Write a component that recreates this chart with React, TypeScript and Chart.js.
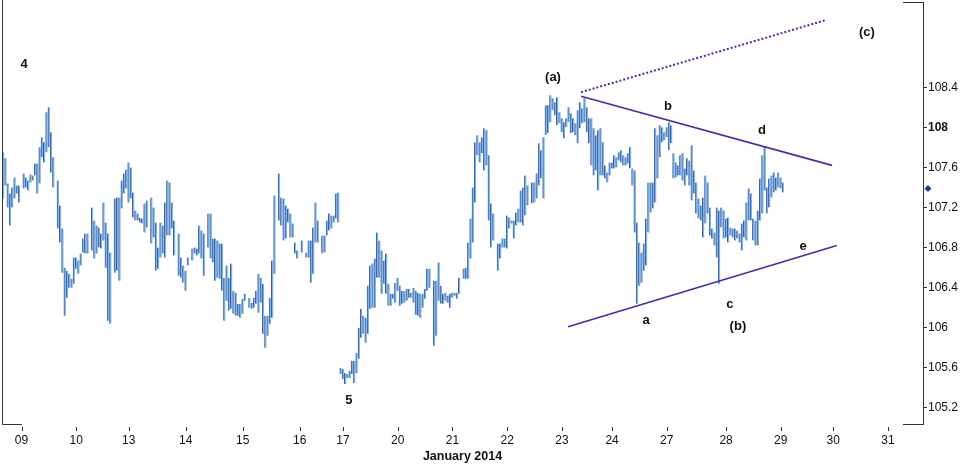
import React, { useEffect, useRef } from "react";
import { Chart, registerables } from "chart.js";

Chart.register(...registerables);

// ---- DATA -------------------------------------------------------------
// Hourly bars, hour offsets counted from the first bar (runs of consecutive hours)
const HOUR_RUNS: [number, number][] = [
  [0, 7], [9, 22], [24, 37], [39, 47], [49, 63], [65, 75], [77, 81], [83, 88],
  [90, 106], [108, 119], [121, 129], [131, 131], [133, 138], [140, 187],
  [189, 200], [202, 215], [217, 230], [232, 342],
];

const HIGHS: number[] = [
  // Jan 9 - 13
  107.75, 107.69, 107.44, 107.34, 107.40, 107.50, 107.42, 107.42,
  107.54, 107.50, 107.47, 107.53, 107.52, 107.64, 107.64, 107.80, 107.90, 107.85, 108.15, 108.20, 107.95, 107.70,
  107.47, 107.22, 106.99, 106.60, 106.57, 106.54, 106.49, 106.70, 106.70, 106.67, 106.74, 106.89, 106.94, 106.94,
  107.20, 107.07, 107.02, 107.00, 106.94, 107.25, 107.05, 106.94, 106.75,
  107.29, 107.30, 107.30, 107.47, 107.54, 107.58, 107.65, 107.60, 107.35,
  // Jan 13 - 16
  107.17, 107.14, 107.10, 107.09, 107.24, 107.27,
  107.30, 107.20, 107.05, 106.80, 107.05, 107.02, 107.25, 107.47, 107.45, 107.25, 107.07,
  106.94, 106.70, 106.62, 106.57, 106.70,
  106.79, 106.80, 106.79, 107.02, 106.97, 106.94,
  107.14, 107.14, 106.89, 106.89, 106.87, 106.84, 106.84, 106.50, 106.62, 106.50, 106.64, 106.37, 106.35, 106.24, 106.24, 106.29, 106.34,
  106.30, 106.25, 106.30, 106.37, 106.54, 106.50, 106.44,
  // Jan 16 - 17
  106.12, 106.12, 106.30, 106.67, 107.32,
  107.54, 107.30, 107.29, 107.22, 107.19, 107.14, 107.04, 106.85, 106.77,
  106.87,
  106.75, 106.87, 106.87, 107.00, 107.25, 107.07,
  106.92, 106.92, 107.07, 107.14, 107.12, 107.12, 107.34, 107.35,
  // Jan 17 - 20
  105.60, 105.59, 105.55, 105.54, 105.57, 105.67, 105.67, 105.75, 106.00, 106.19, 106.12, 106.10, 106.42,
  106.62, 106.64, 106.69, 106.95, 106.87, 106.77, 106.67, 106.74, 106.44, 106.34, 106.34, 106.45,
  // Jan 20 - 22
  106.50, 106.42, 106.37, 106.37, 106.39, 106.39, 106.35, 106.40, 106.37, 106.35, 106.34, 106.34, 106.39, 106.59, 106.59,
  106.47, 106.47, 106.65, 106.42, 106.34, 106.35, 106.32, 106.34, 106.35, 106.35, 106.35, 106.50,
  106.59, 106.60, 106.85, 107.09, 107.40, 107.85, 107.92, 107.85, 107.90, 107.99, 107.97, 107.72, 107.24, 107.14,
  106.84, 106.84, 106.89, 106.89, 107.12, 107.10, 107.07, 107.07, 107.15, 107.19, 107.37, 107.40,
  // Jan 22 - 24
  107.52, 107.42,
  107.45, 107.45, 107.54, 107.84, 107.77, 107.90, 108.22, 108.22, 108.32, 108.29,
  108.25, 108.30, 108.15, 108.09, 108.05, 108.09, 108.20, 108.14, 108.09, 108.04,
  108.17, 108.25, 108.19, 108.29, 108.20, 108.09, 108.09, 107.99, 107.92, 107.97,
  107.99, 107.85, 107.62, 107.55, 107.65, 107.65, 107.72, 107.70, 107.75, 107.77,
  107.72, 107.70, 107.74, 107.80, 107.59, 107.57, 107.05, 106.85, 106.75, 106.84,
  107.09, 107.45, 107.45, 107.45, 107.99,
  // Jan 27 - 29
  107.92, 108.02, 108.00, 107.95, 108.00, 108.05, 108.02, 107.74, 107.65, 107.62,
  107.72, 107.74, 107.59, 107.69, 107.67, 107.82, 107.57, 107.45, 107.29, 107.22,
  107.30, 107.52, 107.45, 107.20, 106.99, 106.95, 107.20, 107.17, 107.20, 107.17,
  107.09, 107.10, 107.00, 106.99, 106.99, 106.97, 106.94, 107.04, 107.07, 107.25,
  107.39, 107.34, 107.09, 107.07, 107.17, 107.49, 107.72, 107.80, 107.40, 107.49,
  107.52, 107.55, 107.50, 107.55, 107.50, 107.45,
];

const LOWS: number[] = [
  // Jan 9 - 13
  107.29, 107.42, 107.20, 107.02, 107.20, 107.29, 107.34, 107.25,
  107.39, 107.40, 107.37, 107.45, 107.47, 107.52, 107.34, 107.44, 107.70, 107.65, 107.75, 107.80, 107.55, 107.40,
  106.99, 106.85, 106.55, 106.12, 106.30, 106.40, 106.40, 106.44, 106.59, 106.54, 106.62, 106.75, 106.74, 106.74,
  106.77, 106.69, 106.74, 106.80, 106.79, 106.87, 106.60, 106.07, 106.04,
  106.55, 106.57, 106.47, 107.19, 107.34, 107.39, 107.25, 107.29, 107.10,
  // Jan 13 - 16
  107.07, 107.07, 107.05, 107.04, 106.95, 107.00,
  106.84, 106.90, 106.57, 106.59, 106.70, 106.74, 106.70, 106.92, 106.92, 106.99, 106.72,
  106.52, 106.50, 106.45, 106.37, 106.62,
  106.67, 106.74, 106.72, 106.74, 106.69, 106.52,
  106.80, 106.69, 106.65, 106.47, 106.50, 106.49, 106.37, 106.07, 106.27, 106.17, 106.19, 106.14, 106.12, 106.12, 106.10, 106.14, 106.27,
  106.20, 106.19, 106.20, 106.24, 106.15, 106.25, 105.94,
  // Jan 16 - 17
  105.80, 105.92, 106.04, 106.10, 106.54,
  107.07, 107.02, 106.87, 106.89, 107.05, 106.90, 106.90, 106.74, 106.69,
  106.75,
  106.70, 106.70, 106.45, 106.54, 106.85, 106.85,
  106.74, 106.75, 106.92, 106.97, 106.99, 107.05, 107.09, 107.05,
  // Jan 17 - 20
  105.54, 105.49, 105.44, 105.50, 105.50, 105.54, 105.45, 105.55, 105.69, 105.90, 105.94, 105.85, 105.94,
  106.19, 106.20, 106.20, 106.50, 106.50, 106.34, 106.44, 106.34, 106.22, 106.22, 106.29, 106.25,
  // Jan 20 - 22
  106.37, 106.22, 106.24, 106.25, 106.27, 106.30, 106.30, 106.25, 106.13, 106.12, 106.10, 106.20, 106.29, 106.37, 106.40,
  105.82, 105.92, 106.27, 106.24, 106.24, 106.27, 106.25, 106.20, 106.30, 106.32, 106.29, 106.34,
  106.49, 106.49, 106.49, 106.69, 106.85, 107.25, 107.72, 107.65, 107.74, 107.57, 107.62, 107.07, 106.80, 106.87,
  106.57, 106.69, 106.80, 106.80, 106.79, 106.99, 107.04, 106.89, 107.02, 107.05, 107.05, 107.02,
  // Jan 22 - 24
  107.12, 107.22,
  107.24, 107.25, 107.29, 107.42, 107.49, 107.29, 107.92, 107.94, 108.05, 108.17,
  108.12, 108.02, 108.04, 107.95, 107.89, 108.00, 108.05, 107.94, 107.95, 107.92,
  107.84, 107.99, 108.04, 108.05, 107.95, 107.84, 107.62, 107.52, 107.57, 107.37,
  107.52, 107.52, 107.49, 107.45, 107.52, 107.59, 107.59, 107.60, 107.67, 107.65,
  107.62, 107.62, 107.64, 107.59, 107.42, 106.95, 106.24, 106.42, 106.45, 106.57,
  106.62, 106.95, 107.15, 107.19, 107.25,
  // Jan 27 - 29
  107.49, 107.70, 107.85, 107.87, 107.90, 107.77, 107.84, 107.49, 107.50, 107.52,
  107.52, 107.47, 107.42, 107.52, 107.42, 107.27, 107.34, 107.14, 107.09, 107.07,
  106.90, 107.04, 107.14, 106.92, 106.89, 106.82, 106.70, 106.44, 107.00, 106.89,
  106.90, 106.85, 106.92, 106.90, 106.87, 106.89, 106.85, 106.77, 106.90, 106.87,
  107.07, 107.07, 106.87, 106.82, 106.82, 107.07, 107.14, 107.37, 107.14, 107.20,
  107.30, 107.35, 107.37, 107.40, 107.39, 107.35,
];

const DAY_TICK_HOURS = [8, 32, 55, 80, 105, 130, 149, 173, 197, 221, 245, 267, 291, 317, 341, 364, 388];
const DAY_LABELS = ["09", "10", "13", "14", "15", "16", "17", "20", "21", "22", "23", "24", "27", "28", "29", "30", "31"];
const Y_TICKS = [105.2, 105.6, 106, 106.4, 106.8, 107.2, 107.6, 108, 108.4];
const LAST_PRICE = 107.39;
const X_TITLE = "January 2014";

// trendlines: [hour, price] pairs
const UPPER_LINE: [number, number][] = [[253.4, 108.31], [363.5, 107.62]];
const LOWER_LINE: [number, number][] = [[247.7, 106.01], [365.6, 106.82]];
const TARGET_LINE: [number, number][] = [[253.4, 108.35], [360.8, 109.07]];

// wave labels: [text, hour, price]
const WAVE_LABELS: [string, number, number][] = [
  ["4", 9.1, 108.63],
  ["5", 151.6, 105.28],
  ["(a)", 241.1, 108.5],
  ["b", 291.5, 108.21],
  ["d", 332.8, 107.97],
  ["(c)", 378.8, 108.95],
  ["a", 281.9, 106.07],
  ["c", 318.7, 106.23],
  ["(b)", 322.2, 106.01],
  ["e", 350.8, 106.81],
];

// ---- CHART ------------------------------------------------------------
const FONT = '"Liberation Sans", Arial, sans-serif';
const X_MIN = -0.57;
const X_MAX = 403.38;

function expandHours(runs: [number, number][]): number[] {
  const out: number[] = [];
  for (const [a, b] of runs) for (let h = a; h <= b; h++) out.push(h);
  return out;
}

const framePlugin = {
  id: "frame",
  afterDraw(chart: any) {
    const { ctx, chartArea, scales } = chart;
    const { right, top, bottom } = chartArea;
    const x = scales.x;
    const y = scales.y;
    ctx.save();
    ctx.strokeStyle = "#333";
    ctx.lineWidth = 1;
    ctx.beginPath();
    ctx.moveTo(2.5, 0);
    ctx.lineTo(2.5, bottom + 0.5);
    ctx.lineTo(22, bottom + 0.5);
    ctx.moveTo(right - 20, top + 0.5);
    ctx.lineTo(right, top + 0.5);
    ctx.moveTo(right - 20, bottom + 0.5);
    ctx.lineTo(right, bottom + 0.5);
    for (const h of DAY_TICK_HOURS) {
      const px = Math.round(x.getPixelForValue(h)) + 0.5;
      ctx.moveTo(px, bottom + 3);
      ctx.lineTo(px, bottom + 7);
    }
    ctx.stroke();

    // wave labels
    ctx.fillStyle = "#111";
    ctx.font = `bold 13px ${FONT}`;
    ctx.textAlign = "center";
    ctx.textBaseline = "middle";
    for (const [t, h, p] of WAVE_LABELS) {
      ctx.fillText(t, x.getPixelForValue(h), y.getPixelForValue(p));
    }

    // last price marker
    const dy = y.getPixelForValue(LAST_PRICE);
    const dx = right + 5;
    ctx.fillStyle = "#1c3f94";
    ctx.beginPath();
    ctx.moveTo(dx, dy - 3.5);
    ctx.lineTo(dx + 3.5, dy);
    ctx.lineTo(dx, dy + 3.5);
    ctx.lineTo(dx - 3.5, dy);
    ctx.closePath();
    ctx.fill();
    ctx.restore();
  },
};

export default function App() {
  const ref = useRef<HTMLCanvasElement | null>(null);

  useEffect(() => {
    if (!ref.current) return;
    const hours = expandHours(HOUR_RUNS);
    const n = Math.min(hours.length, HIGHS.length, LOWS.length);
    const bars = [];
    for (let i = 0; i < n; i++) bars.push({ x: hours[i], y: [LOWS[i], HIGHS[i]] });
    const toPts = (l: [number, number][]) => l.map(([h, p]) => ({ x: h, y: p }));

    const lineColor = "#3f2fae";
    const chart = new Chart(ref.current, {
      type: "bar",
      data: {
        datasets: [
          {
            type: "line",
            data: toPts(UPPER_LINE),
            borderColor: lineColor,
            borderWidth: 1.6,
            pointRadius: 0,
            fill: false,
            order: 1,
          } as any,
          {
            type: "line",
            data: toPts(LOWER_LINE),
            borderColor: lineColor,
            borderWidth: 1.6,
            pointRadius: 0,
            fill: false,
            order: 1,
          } as any,
          {
            type: "line",
            data: toPts(TARGET_LINE),
            borderColor: lineColor,
            borderWidth: 2,
            borderDash: [2, 2],
            pointRadius: 0,
            fill: false,
            order: 1,
          } as any,
          {
            type: "bar",
            data: bars as any,
            barThickness: 2,
            backgroundColor: "#7ab6e0",
            borderColor: "#3d5aaa",
            borderWidth: { left: 1, right: 0, top: 0, bottom: 0 },
            borderSkipped: false,
            grouped: false,
            order: 2,
          } as any,
        ],
      },
      options: {
        animation: false,
        responsive: false,
        devicePixelRatio: 1,
        events: [],
        layout: { padding: { left: 2, top: 2, right: 0, bottom: 0 } },
        plugins: { legend: { display: false }, tooltip: { enabled: false } },
        scales: {
          x: {
            type: "linear",
            min: X_MIN,
            max: X_MAX,
            offset: false,
            grid: { display: false, drawTicks: false, offset: false },
            border: { display: false },
            afterBuildTicks: (s: any) => {
              s.ticks = DAY_TICK_HOURS.map((v) => ({ value: v }));
            },
            ticks: {
              autoSkip: false,
              maxRotation: 0,
              minRotation: 0,
              padding: 9,
              color: "#111",
              font: { family: FONT, size: 12 },
              callback: (_v: any, i: number) => DAY_LABELS[i],
            },
            title: {
              display: true,
              text: X_TITLE,
              color: "#111",
              font: { family: FONT, size: 12.5, weight: "bold" },
              padding: { top: 0, bottom: 4 },
            },
            afterFit: (s: any) => {
              s.height = 44;
              s.paddingLeft = 0;
              s.paddingRight = 0;
            },
          } as any,
          y: {
            position: "right",
            min: 105.04,
            max: 109.25,
            grid: { display: true, drawOnChartArea: false, drawTicks: true, tickLength: 4, tickColor: "#333" },
            border: { display: true, color: "#333", width: 1 },
            afterBuildTicks: (s: any) => {
              s.ticks = Y_TICKS.map((v) => ({ value: v }));
            },
            ticks: {
              padding: 1,
              color: "#111",
              font: (c: any) => ({
                family: FONT,
                size: 12,
                weight: c.tick && Math.abs(c.tick.value - 108) < 1e-6 ? "bold" : "normal",
              }),
              callback: (v: any) => Number(v).toFixed(1).replace(/\.0$/, ""),
            },
            afterFit: (s: any) => {
              s.width = 44;
              s.paddingTop = 0;
              s.paddingBottom = 0;
            },
          } as any,
        },
      },
      plugins: [framePlugin],
    });
    return () => chart.destroy();
  }, []);

  return (
    <div style={{ position: "fixed", left: 0, top: 0, width: 967, height: 468, background: "#fff" }}>
      <canvas ref={ref} width={967} height={468} style={{ width: 967, height: 468, display: "block" }} />
    </div>
  );
}
